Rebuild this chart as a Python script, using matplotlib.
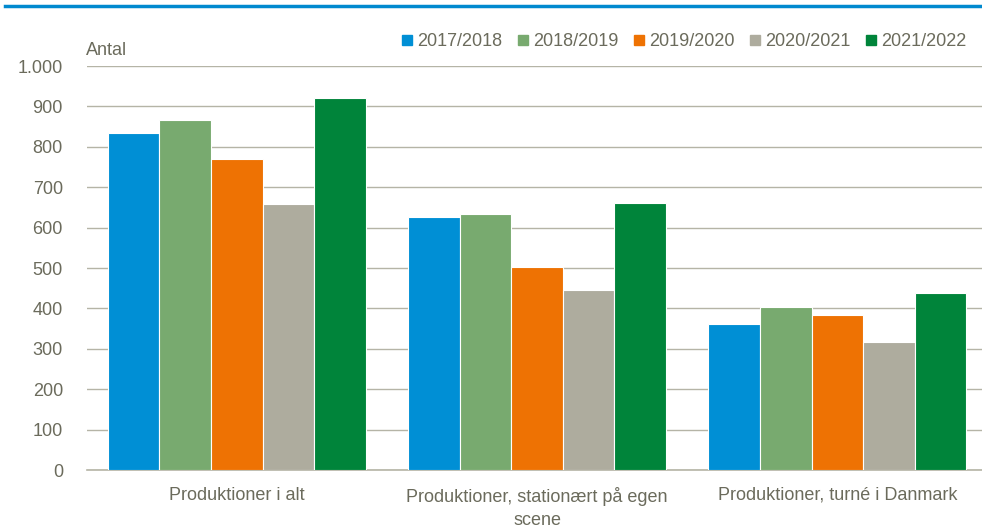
import matplotlib
matplotlib.use("Agg")
import matplotlib.pyplot as plt
from matplotlib.lines import Line2D
import numpy as np

categories = ["Produktioner i alt", "Produktioner, stationært på egen\nscene", "Produktioner, turné i Danmark"]
seasons = ["2017/2018", "2018/2019", "2019/2020", "2020/2021", "2021/2022"]
values = {
    "2017/2018": [834, 627, 361],
    "2018/2019": [866, 634, 403],
    "2019/2020": [771, 502, 384],
    "2020/2021": [658, 446, 317],
    "2021/2022": [920, 661, 438],
}
colors = ["#008FD5", "#78AA6F", "#EE7203", "#AEAC9E", "#00843A"]
yticks = [0, 100, 200, 300, 400, 500, 600, 700, 800, 900, 1000]
ytick_labels = ["0", "100", "200", "300", "400", "500", "600", "700", "800", "900", "1.000"]

text_color = "#6B6B5C"
grid_color = "#B5B4A6"

plt.rcParams["font.family"] = ["Liberation Sans", "DejaVu Sans"]

fig = plt.figure(figsize=(9.82, 5.29), dpi=100)
ax = fig.add_axes([0.0881, 0.1115, 0.9175, 0.7637])

x = np.arange(len(categories))
width = 0.1720
for i, s in enumerate(seasons):
    ax.bar(x + (i - 2) * width, values[s], width, color=colors[i], edgecolor="white",
           linewidth=0.8, zorder=3)

ax.set_xlim(-0.5, 2.5)
ax.set_ylim(0, 1000)
ax.set_yticks(yticks)
ax.set_yticklabels(ytick_labels)
ax.set_xticks(x)
ax.set_xticklabels(categories, linespacing=1.45)
ax.tick_params(axis="y", length=0, pad=17, labelsize=13, colors=text_color)
ax.tick_params(axis="x", length=0, pad=12, labelsize=13, colors=text_color)
ax.grid(axis="y", color=grid_color, linewidth=1.0, zorder=0)
for side in ["top", "right", "left"]:
    ax.spines[side].set_visible(False)
ax.spines["bottom"].set_color(grid_color)
ax.spines["bottom"].set_linewidth(1.2)

fig.text(0.0876, 0.905, "Antal", fontsize=13, color=text_color, va="center", ha="left")

handles = [Line2D([0], [0], marker="s", linestyle="none", markersize=7,
                  markerfacecolor=c, markeredgecolor=c) for c in colors]
fig.legend(handles, seasons, loc="center right", bbox_to_anchor=(0.997, 0.921), ncol=5,
           frameon=False, fontsize=13, labelcolor=text_color, handletextpad=0.15,
           columnspacing=0.75, handlelength=0.8, borderpad=0.2)

# blue rule at the top
fig.add_artist(Line2D([0.005, 1.0], [0.988, 0.988], color="#0089CF", linewidth=2.5))

fig.savefig("out.png", dpi=100)
